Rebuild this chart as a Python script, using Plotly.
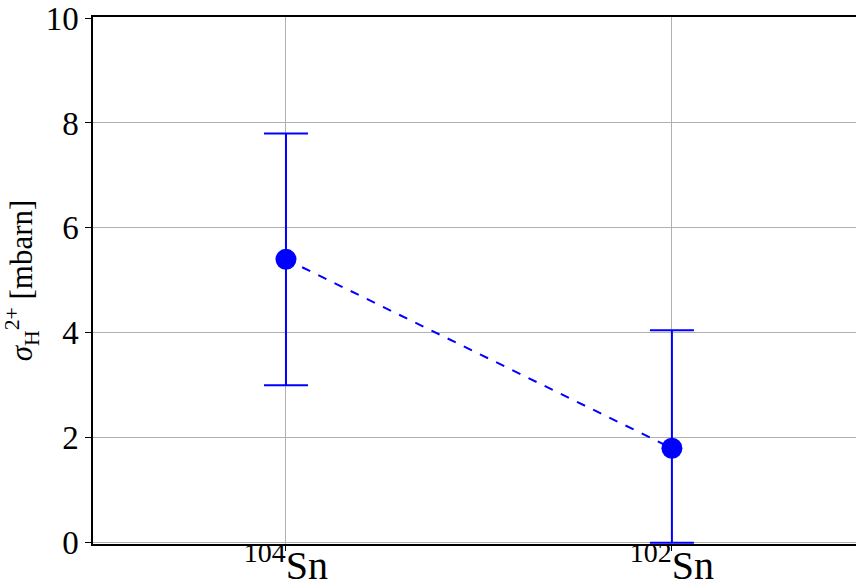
import plotly.graph_objects as go

categories = ["<sup>104</sup>Sn", "<sup>102</sup>Sn"]
x_pos = [0, 1]
values = [5.4, 1.8]
err_plus = [2.4, 2.25]
err_minus = [2.4, 1.8]
y_ticks = [0, 2, 4, 6, 8, 10]

FONT = "Liberation Serif"

fig = go.Figure()
fig.add_trace(go.Scatter(
    x=x_pos, y=values,
    mode="lines+markers",
    line=dict(color="#0000ff", width=2, dash="dash"),
    marker=dict(color="#0000ff", size=21),
    error_y=dict(type="data", symmetric=False, array=err_plus, arrayminus=err_minus,
                 color="#0000ff", thickness=2, width=22),
    showlegend=False,
))

fig.update_layout(
    width=856, height=588,
    margin=dict(l=93, r=0, t=17, b=44, autoexpand=False),
    paper_bgcolor="white", plot_bgcolor="white",
    font=dict(family=FONT, color="black", size=30),
)
fig.update_xaxes(
    range=[-0.5, 1.477],
    tickvals=x_pos, ticktext=categories,
    showgrid=True, gridcolor="#b0b0b0", gridwidth=1,
    showline=True, linecolor="black", linewidth=1.5, mirror=True,
    ticks="outside", ticklen=5, tickcolor="black",
    tickfont=dict(family=FONT, size=40),
    ticklabelstandoff=-20,
    ticklabeloverflow="allow", automargin=False,
    zeroline=False,
)
fig.update_yaxes(
    range=[-0.025, 10.019],
    tickvals=y_ticks,
    showgrid=True, gridcolor="#b0b0b0", gridwidth=1,
    showline=True, linecolor="black", linewidth=1.5,
    ticks="outside", ticklen=6, tickcolor="black",
    tickfont=dict(family=FONT, size=33),
    ticklabeloverflow="allow", automargin=False,
    zeroline=False,
    title=dict(text="<i>σ</i><sub>H</sub><sup>2+</sup> [mbarn]", font=dict(family=FONT, size=31), standoff=4),
)

fig.write_html(
    "out.html",
    config={"displayModeBar": False},
    post_script="document.body.style.margin='0';document.body.style.overflow='hidden';",
)
